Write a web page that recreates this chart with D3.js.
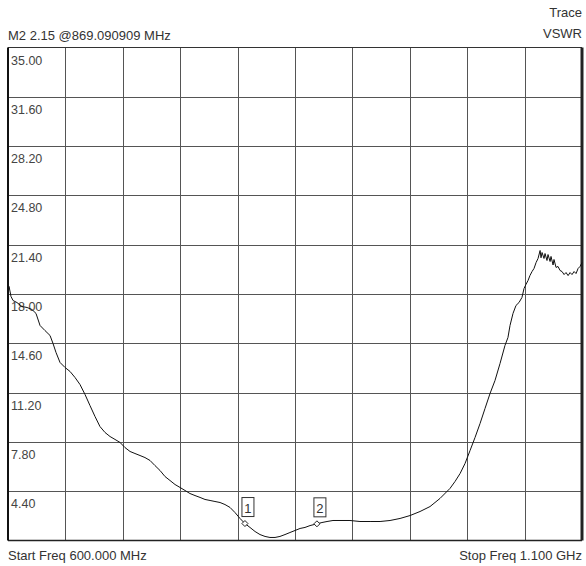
<!DOCTYPE html>
<html><head><meta charset="utf-8">
<script src="https://cdn.jsdelivr.net/npm/d3@7/dist/d3.min.js"></script>
<style>body{margin:0;background:#fff;}svg{display:block;font-family:"Liberation Sans",Arial,sans-serif;}</style>
</head><body>
<script>
const freqMHz = [600,600.9,602.6,604.4,607.8,612.2,616.6,620.9,624.4,627.9,632.2,636.6,639.2,641.8,645.3,649.7,654.0,658.4,662.7,667.1,671.4,675.8,680.1,684.5,688.9,693.2,697.6,701.9,706.3,710.6,715.0,719.3,723.7,728.0,732.4,736.8,741.1,745.5,749.8,754.2,758.5,762.9,767.3,771.6,776.0,780.3,784.7,789.0,793.4,797.7,802.1,806.4,810.8,815.2,819.5,823.9,828.2,832.6,836.9,841.3,845.6,850.0,854.4,858.7,863.1,869.1,873.5,877.9,883.1,889.2,897.9,906.6,915.4,924.1,932.8,941.5,950.2,958.9,967.6,976.3,985.0,989.4,993.8,998.1,1002.5,1006.8,1011.2,1015.5,1019.9,1024.2,1028.6,1032.9,1035.5,1037.3,1039.9,1042.5,1045.1,1047.7,1049.5,1051.2,1053.0,1054.7,1056.5,1058.2,1060.0,1061.7,1063.5,1064.3,1065.2,1066.9,1067.8,1069.5,1070.4,1072.2,1073.0,1074.8,1075.6,1077.4,1079.1,1080.9,1082.6,1084.4,1086.1,1087.9,1089.6,1091.3,1093.1,1094.8,1096.6,1098.3,1100];
const vswr = [18.24,18.52,17.83,17.55,17.41,17.14,17.07,16.93,16.66,15.83,15.48,15.14,14.59,13.97,13.28,12.93,12.66,12.24,11.76,11.07,10.31,9.55,8.86,8.45,8.17,7.97,7.76,7.41,7.14,7.00,6.86,6.72,6.52,6.17,5.83,5.41,5.14,4.86,4.66,4.45,4.24,4.10,3.97,3.83,3.76,3.69,3.62,3.48,3.28,2.93,2.52,2.17,1.90,1.62,1.41,1.28,1.21,1.21,1.28,1.41,1.55,1.69,1.83,1.90,2.03,2.15,2.24,2.31,2.38,2.38,2.38,2.31,2.31,2.31,2.38,2.52,2.72,3.00,3.34,3.90,4.59,5.07,5.62,6.31,7.21,8.10,9.07,10.10,11.14,12.03,13.21,14.45,15.00,15.83,16.66,17.21,17.41,17.76,18.38,18.66,18.93,19.28,19.55,19.76,20.17,20.45,21.00,20.50,20.86,20.45,20.79,20.31,20.72,20.24,20.59,20.00,20.38,19.83,19.90,19.62,19.55,19.34,19.48,19.27,19.48,19.34,19.55,19.41,19.76,19.90,20.17];
const yTickLabels = ["35.00","31.60","28.20","24.80","21.40","18.00","14.60","11.20","7.80","4.40"];
const yTicks = [35,31.6,28.2,24.8,21.4,18,14.6,11.2,7.8,4.4,1];
const xTicks = [600,650,700,750,800,850,900,950,1000,1050,1100];
const markerNames = ["1","2"];
const markerFreq = [806.4,869.090909];
const markerVal = [2.17,2.15];
const headerText = "M2 2.15 @869.090909 MHz";
const traceTitle = ["Trace","VSWR"];
const startText = "Start Freq 600.000 MHz";
const stopText = "Stop Freq 1.100 GHz";

const W=586,H=566;
const L=8,R=582,T=47.5,B=540.5;
const svg=d3.select("body").append("svg").attr("width",W).attr("height",H);
const x=d3.scaleLinear().domain([600,1100]).range([L,R]);
const y=d3.scaleLinear().domain([1,35]).range([B,T]);

// grid
const g=svg.append("g");
g.selectAll("line.v").data(xTicks.slice(1,-1)).join("line")
 .attr("x1",d=>Math.round(x(d))+0.5).attr("x2",d=>Math.round(x(d))+0.5).attr("y1",T).attr("y2",B)
 .attr("stroke","#555").attr("stroke-width",1);
g.selectAll("line.h").data(yTicks.slice(1,-1)).join("line")
 .attr("y1",d=>Math.round(y(d))+0.5).attr("y2",d=>Math.round(y(d))+0.5).attr("x1",L).attr("x2",R)
 .attr("stroke","#555").attr("stroke-width",1);
// frame
svg.append("line").attr("x1",L).attr("x2",R).attr("y1",T).attr("y2",T).attr("stroke","#333").attr("stroke-width",1.2);
svg.append("line").attr("x1",L).attr("x2",R).attr("y1",B).attr("y2",B).attr("stroke","#222").attr("stroke-width",1.5);
svg.append("line").attr("x1",L).attr("x2",L).attr("y1",T).attr("y2",B).attr("stroke","#111").attr("stroke-width",2);
svg.append("line").attr("x1",R).attr("x2",R).attr("y1",T).attr("y2",B).attr("stroke","#222").attr("stroke-width",3);

// tick labels
svg.selectAll("text.yl").data(yTickLabels).join("text")
 .attr("x",L+3).attr("y",(d,i)=>y(yTicks[i])+17)
 .attr("font-size",12.5).attr("fill","#444").text(d=>d);

// trace
const pts=freqMHz.map((f,i)=>[f,vswr[i]]);
svg.append("path").datum(pts)
 .attr("d",d3.line().x(d=>x(d[0])).y(d=>y(d[1])))
 .attr("fill","none").attr("stroke","#111").attr("stroke-width",1);

// markers
markerNames.forEach((m,i)=>{
  const mx=x(markerFreq[i]), my=y(markerVal[i]);
  svg.append("path").attr("d",`M${mx},${my-3}L${mx+3},${my}L${mx},${my+3}L${mx-3},${my}Z`)
   .attr("fill","#fff").attr("stroke","#222").attr("stroke-width",1);
  const bx=mx-3, by=my-26;
  svg.append("rect").attr("x",bx).attr("y",by).attr("width",12).attr("height",19)
   .attr("fill","#fff").attr("stroke","#333").attr("stroke-width",1);
  svg.append("text").attr("x",bx+6).attr("y",by+15).attr("text-anchor","middle")
   .attr("font-size",13).attr("fill","#333").text(m);
});

// texts
svg.append("text").attr("x",L).attr("y",40).attr("font-size",13).attr("fill","#333").text(headerText);
svg.append("text").attr("x",R).attr("y",17).attr("text-anchor","end").attr("font-size",13).attr("fill","#333").text(traceTitle[0]);
svg.append("text").attr("x",R).attr("y",38).attr("text-anchor","end").attr("font-size",13).attr("fill","#333").text(traceTitle[1]);
svg.append("text").attr("x",L).attr("y",560).attr("font-size",13).attr("fill","#333").text(startText);
svg.append("text").attr("x",R).attr("y",560).attr("text-anchor","end").attr("font-size",13).attr("fill","#333").text(stopText);
</script>
</body></html>
